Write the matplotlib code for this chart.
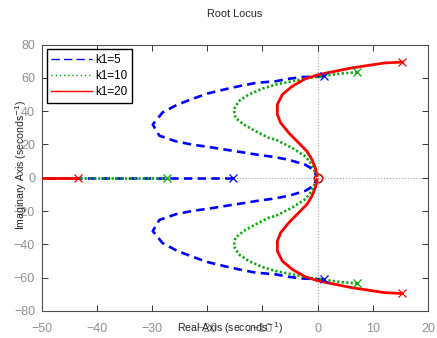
import numpy as np
import matplotlib.pyplot as plt
from matplotlib.lines import Line2D

plt.rcParams['font.family'] = ['Liberation Sans', 'DejaVu Sans']

# ----------------------------
# Datos (rama superior; la inferior es la conjugada)
# ----------------------------
labels = ['k1=5', 'k1=10', 'k1=20']
colors = ['#0000ff', '#00aa00', '#ff0000']

# k1=5
re_5 = [1.1, -2.8, -5.2, -7.6, -11.2, -14.3, -17.0, -20.0, -22.7, -25.4, -28.1,
        -29.9, -28.7, -25.7, -22.7, -19.7, -16.7, -14.0, -11.0, -7.9, -5.2,
        -2.2, -0.7, -0.2]
im_5 = [61.0, 60.5, 59.5, 58.0, 57.0, 55.0, 53.0, 50.6, 47.4, 44.0, 39.3,
        32.0, 25.3, 21.9, 19.9, 18.5, 16.9, 15.5, 13.9, 12.5, 10.8,
        7.8, 4.8, 0.8]
real_pole_5 = -15.3

# k1=10
re_10 = [7.2, 4.4, 1.4, -1.6, -4.6, -7.6, -10.0, -12.5, -14.3, -15.2, -14.9,
         -13.4, -11.2, -8.8, -7.6, -4.6, -2.2, -1.0, -0.4, -0.1]
im_10 = [63.4, 62.7, 61.4, 60.0, 58.0, 56.0, 53.6, 50.0, 46.0, 41.0, 36.0,
         32.0, 27.9, 23.9, 22.9, 17.9, 12.8, 7.8, 2.8, 0.6]
real_pole_10 = -27.3

# k1=20
re_20 = [15.4, 12.2, 9.2, 6.2, 3.2, 0.2, -2.2, -4.6, -6.4, -7.3, -7.3, -6.7,
         -5.2, -3.4, -1.9, -1.0, -0.4, -0.1]
im_20 = [69.5, 69.0, 67.5, 66.0, 64.0, 62.0, 59.5, 55.0, 50.0, 44.0, 38.0, 33.0,
         26.9, 20.9, 15.8, 10.8, 5.8, 1.2]
real_pole_20 = -43.5

branches = [(re_5, im_5, real_pole_5), (re_10, im_10, real_pole_10),
            (re_20, im_20, real_pole_20)]
zero_re, zero_im = 0.0, 0.0
x_left = -50

# ----------------------------
# Grafica
# ----------------------------
fig = plt.figure(figsize=(4.37, 3.38), dpi=100)
ax = fig.add_axes([0.096, 0.08, 0.883, 0.788])

ax.axvline(0, color='#a0a0a0', ls=':', lw=0.8, zorder=1)
ax.axhline(0, color='#a0a0a0', ls=':', lw=0.8, zorder=1)

styles = [dict(ls=(0, (3.2, 2.0)), lw=1.9), dict(ls=(0, (0.8, 0.9)), lw=1.9),
          dict(ls='-', lw=2.0)]

for (re, im, rp), c, st in zip(branches, colors, styles):
    re = np.array(re)
    im = np.array(im)
    ax.plot(re, im, color=c, zorder=3, **st)
    ax.plot(re, -im, color=c, zorder=3, **st)
    ax.plot([rp, x_left], [0, 0], color=c, zorder=3, **st)
    ax.plot([re[0], re[0], rp], [im[0], -im[0], 0], ls='none', marker='x',
            ms=6, mew=0.9, color=c, zorder=4)
    ax.plot(zero_re, zero_im, ls='none', marker='o', ms=6, mfc='none',
            mew=0.9, color=c, zorder=4)

ax.set_xlim(-50, 20)
ax.set_ylim(-80, 80)
ax.set_xticks(np.arange(-50, 21, 10))
ax.set_yticks(np.arange(-80, 81, 20))
ax.tick_params(direction='in', top=True, right=True, length=4, width=0.7,
               labelsize=9, labelcolor='#909090', color='#333333')
ax.tick_params(axis='x', pad=9)
ax.tick_params(axis='y', pad=5)
for s in ax.spines.values():
    s.set_color('#4d4d4d')
    s.set_linewidth(0.8)

ax.set_title('Root Locus', fontsize=7.8, color='#262626', pad=20)
ax.set_xlabel('Real Axis (seconds$^{-1}$)', fontsize=7.6, color='#262626',
              va='center')
ax.set_ylabel('Imaginary Axis (seconds$^{-1}$)', fontsize=7.6, color='#262626',
              va='center')
ax.xaxis.set_label_coords(0.487, -0.066)
ax.yaxis.set_label_coords(-0.055, 0.55)

handles = [Line2D([], [], color=c, lw=1.0, ls=st['ls']) for c, st in zip(colors, styles)]
handles[0].set_linestyle((0, (6, 3)))
handles[1].set_linestyle((0, (1, 2)))
ax.legend(handles, labels, loc='upper left', fontsize=8.4, handlelength=3.5,
          fancybox=False, edgecolor='black', framealpha=1,
          borderaxespad=0.4, labelspacing=0.35, handletextpad=0.3)

plt.savefig('out.png', dpi=100)
